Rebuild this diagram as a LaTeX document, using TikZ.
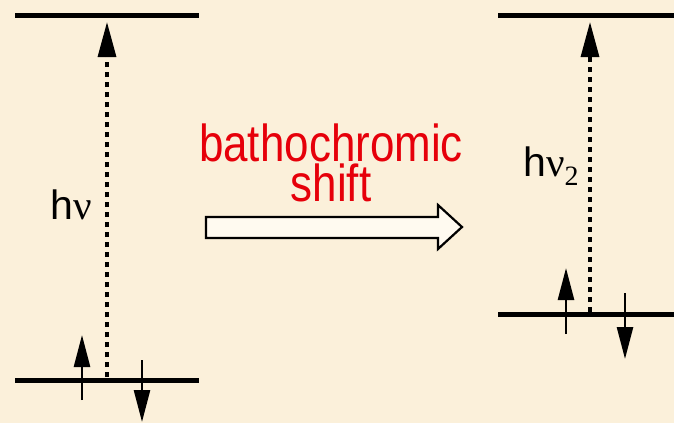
\documentclass[tikz,border=0pt]{standalone}
\usepackage{fontspec}
\setmainfont{Liberation Sans}
\newfontfamily\serifgr{Liberation Serif}
\usetikzlibrary{arrows.meta}
\definecolor{bgcol}{RGB}{251,240,218}
\definecolor{redtxt}{RGB}{230,0,10}
\definecolor{arrfill}{RGB}{255,250,240}
\newcommand{\narrow}[1]{\scalebox{0.845}[1]{#1}}
\tikzset{
  level/.style={line width=5pt},
  excite/.style={line width=3.2pt, dash pattern=on 5pt off 5pt,
    -{Triangle[length=35pt,width=18pt]}},
  spin/.style={line width=2.6pt, -{Triangle[length=32pt,width=16pt]}},
  lbl/.style={font=\fontsize{41}{44}\selectfont, anchor=base, inner sep=0pt},
  redlbl/.style={text=redtxt, font=\fontsize{52}{40}\selectfont, align=center, inner sep=0pt},
  fatarrow/.style={line width=2.2pt, fill=arrfill, line join=miter}
}
\begin{document}
\begin{tikzpicture}[x=1pt,y=-1pt]
\fill[bgcol] (0,0) rectangle (674,423);
\useasboundingbox (0,0) rectangle (674,423);
% left diagram
\coordinate (L1a) at (15,15);  \coordinate (L1b) at (199,15);
\coordinate (L0a) at (15,380); \coordinate (L0b) at (199,380);
\draw[level] (L1a) -- (L1b);
\draw[level] (L0a) -- (L0b);
\coordinate (Lex0) at (107,377); \coordinate (Lex1) at (107,22);
\draw[excite] (Lex0) -- (Lex1);
\coordinate (Lup0) at (82,400); \coordinate (Lup1) at (82,335);
\coordinate (Ldn0) at (142,360); \coordinate (Ldn1) at (142,422);
\draw[spin] (Lup0) -- (Lup1);
\draw[spin] (Ldn0) -- (Ldn1);
\node[lbl] (hnu) at (71,219) {h{\serifgr ν}};
% right diagram
\coordinate (R1a) at (498,15);  \coordinate (R1b) at (674,15);
\coordinate (R0a) at (498,314); \coordinate (R0b) at (674,314);
\draw[level] (R1a) -- (R1b);
\draw[level] (R0a) -- (R0b);
\coordinate (Rex0) at (590,312); \coordinate (Rex1) at (590,22);
\draw[excite] (Rex0) -- (Rex1);
\coordinate (Rup0) at (566,334); \coordinate (Rup1) at (566,268);
\coordinate (Rdn0) at (625,293); \coordinate (Rdn1) at (625,359);
\draw[spin] (Rup0) -- (Rup1);
\draw[spin] (Rdn0) -- (Rdn1);
\node[lbl] (hnu2) at (551,176) {h{\serifgr ν\raisebox{-9pt}{\fontsize{28}{30}\selectfont 2}}};
% middle
\node[redlbl] (bath) at (331,163) {\narrow{bathochromic}\\\narrow{shift}};
\draw[fatarrow] (206,217) -- (438,217) -- (438,205) -- (462,227) -- (438,249)
  -- (438,238) -- (206,238) -- cycle;
\end{tikzpicture}
\end{document}
